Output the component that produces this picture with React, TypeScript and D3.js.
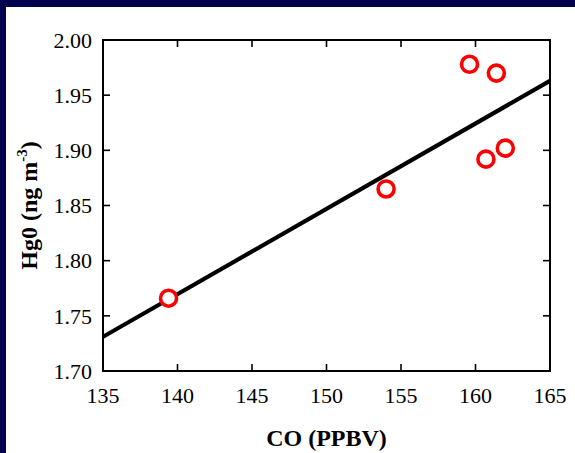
import React from "react";
import * as d3 from "d3";

const coValues = [139.4, 154.0, 159.6, 161.4, 160.7, 162.0];
const hgValues = [1.766, 1.865, 1.978, 1.970, 1.892, 1.902];
const fitX = [135, 165];
const fitY = [1.731, 1.963];
const xTicks = [135, 140, 145, 150, 155, 160, 165];
const yTicks = [1.70, 1.75, 1.80, 1.85, 1.90, 1.95, 2.00];

const W = 575;
const H = 453;
const M = { left: 103, right: 550, top: 40, bottom: 371 };

const serif = { fontFamily: "Liberation Serif, Times New Roman, Times, DejaVu Serif, serif" };

export default function App() {
  const x = d3.scaleLinear().domain([135, 165]).range([M.left, M.right]);
  const y = d3.scaleLinear().domain([1.7, 2.0]).range([M.bottom, M.top]);
  const line = d3
    .line<number>()
    .x((d) => x(fitX[d]))
    .y((d) => y(fitY[d]));
  const tl = 7;
  return (
    <div style={{ position: "fixed", left: 0, top: 0 }}>
      <svg width={W} height={H} style={{ display: "block", background: "#fff" }}>
        <rect x={0} y={0} width={W} height={7} fill="#02024f" />
        <rect x={0} y={0} width={6} height={H} fill="#02024f" />
        <defs>
          <clipPath id="plotclip">
            <rect x={M.left} y={M.top} width={M.right - M.left} height={M.bottom - M.top} />
          </clipPath>
        </defs>
        <path
          d={line([0, 1]) || ""}
          stroke="#000"
          strokeWidth={4.2}
          fill="none"
          clipPath="url(#plotclip)"
        />
        <rect
          x={M.left}
          y={M.top}
          width={M.right - M.left}
          height={M.bottom - M.top}
          fill="none"
          stroke="#000"
          strokeWidth={2}
        />
        {xTicks.map((t) => (
          <g key={"x" + t}>
            <line x1={x(t)} x2={x(t)} y1={M.bottom} y2={M.bottom - tl} stroke="#000" strokeWidth={1.6} />
            <line x1={x(t)} x2={x(t)} y1={M.top} y2={M.top + tl} stroke="#000" strokeWidth={1.6} />
            <text x={x(t)} y={403} textAnchor="middle" style={serif} fontSize={22} fill="#000">
              {t}
            </text>
          </g>
        ))}
        {yTicks.map((t) => (
          <g key={"y" + t}>
            <line x1={M.left} x2={M.left + tl} y1={y(t)} y2={y(t)} stroke="#000" strokeWidth={1.6} />
            <line x1={M.right} x2={M.right - tl} y1={y(t)} y2={y(t)} stroke="#000" strokeWidth={1.6} />
            <text
              x={92}
              y={y(t)}
              dy="0.35em"
              textAnchor="end"
              style={serif}
              fontSize={22}
              fill="#000"
            >
              {t.toFixed(2)}
            </text>
          </g>
        ))}
        {coValues.map((c, i) => (
          <circle
            key={"p" + i}
            cx={x(c)}
            cy={y(hgValues[i])}
            r={8}
            fill="#fff"
            stroke="#ff0000"
            strokeWidth={3.6}
          />
        ))}
        <text
          x={(M.left + M.right) / 2}
          y={446}
          textAnchor="middle"
          style={serif}
          fontSize={24}
          fontWeight="bold"
          fill="#000"
        >
          CO (PPBV)
        </text>
        <text
          transform={`translate(37, ${(M.top + M.bottom) / 2}) rotate(-90)`}
          textAnchor="middle"
          style={serif}
          fontSize={24}
          fontWeight="bold"
          fill="#000"
        >
          Hg0 (ng m
          <tspan fontSize={15} dy={-10}>-3</tspan>
          <tspan dy={10}>)</tspan>
        </text>
      </svg>
    </div>
  );
}
